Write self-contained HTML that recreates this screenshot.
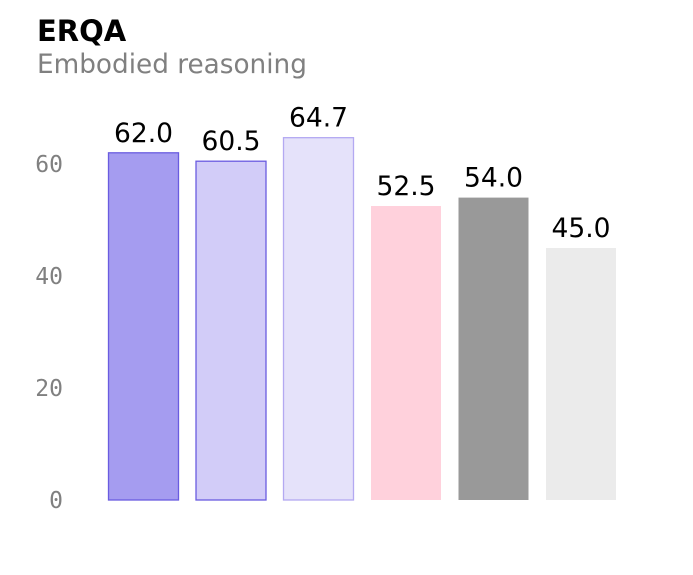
<!DOCTYPE html>
<html><head><meta charset="utf-8"><style>
body{margin:0;background:#fff;}
svg{display:block;}
</style></head><body>
<svg width="693" height="575" xmlns="http://www.w3.org/2000/svg">
<text x="37" y="41" font-family="DejaVu Sans, Liberation Sans, sans-serif" font-weight="bold" font-size="29" fill="#000">ERQA</text>
<text x="37" y="73" font-family="DejaVu Sans, Liberation Sans, sans-serif" font-size="26.3" fill="#808080">Embodied reasoning</text>
<g id="yaxis"></g>
<g id="bars"></g>
</svg>
<script>
const values = [62.0, 60.5, 64.7, 52.5, 54.0, 45.0];
const labels = ["62.0", "60.5", "64.7", "52.5", "54.0", "45.0"];
const ticks = [0, 20, 40, 60];
const fills = ["#a59cf0", "#d2ccf8", "#e5e2fa", "#ffd1dc", "#999999", "#ebebeb"];
const strokes = ["#6a5ce0", "#6a5ce0", "#b3a9f2", "none", "none", "none"];
const NS = "http://www.w3.org/2000/svg";
const y = v => 500 - v * 5.6;
const x = i => 108 + i * 87.5;
const ya = document.getElementById('yaxis');
ticks.forEach(t => {
  const el = document.createElementNS(NS, 'text');
  el.setAttribute('x', 63); el.setAttribute('y', y(t) + 8);
  el.setAttribute('text-anchor', 'end');
  el.setAttribute('font-family', 'DejaVu Sans Mono, Liberation Mono, monospace');
  el.setAttribute('font-size', '23'); el.setAttribute('fill', '#808080');
  el.textContent = t;
  
  
  ya.appendChild(el);
});
const g = document.getElementById('bars');
values.forEach((v, i) => {
  const r = document.createElementNS(NS, 'rect');
  r.setAttribute('x', x(i) + 0.5); r.setAttribute('y', y(v));
  r.setAttribute('width', 70); r.setAttribute('height', y(0) - y(v));
  r.setAttribute('fill', fills[i]);
  if (strokes[i] !== 'none') { r.setAttribute('stroke', strokes[i]); r.setAttribute('stroke-width', '1.3'); }
  
  
  g.appendChild(r);
  const t = document.createElementNS(NS, 'text');
  t.setAttribute('x', x(i) + 35.5); t.setAttribute('y', y(v) - 11);
  t.setAttribute('text-anchor', 'middle');
  t.setAttribute('font-family', 'DejaVu Sans, Liberation Sans, sans-serif');
  t.setAttribute('font-size', '26.5'); t.setAttribute('fill', '#000');
  t.textContent = labels[i];
  
  
  g.appendChild(t);
});
</script>
</body></html>
